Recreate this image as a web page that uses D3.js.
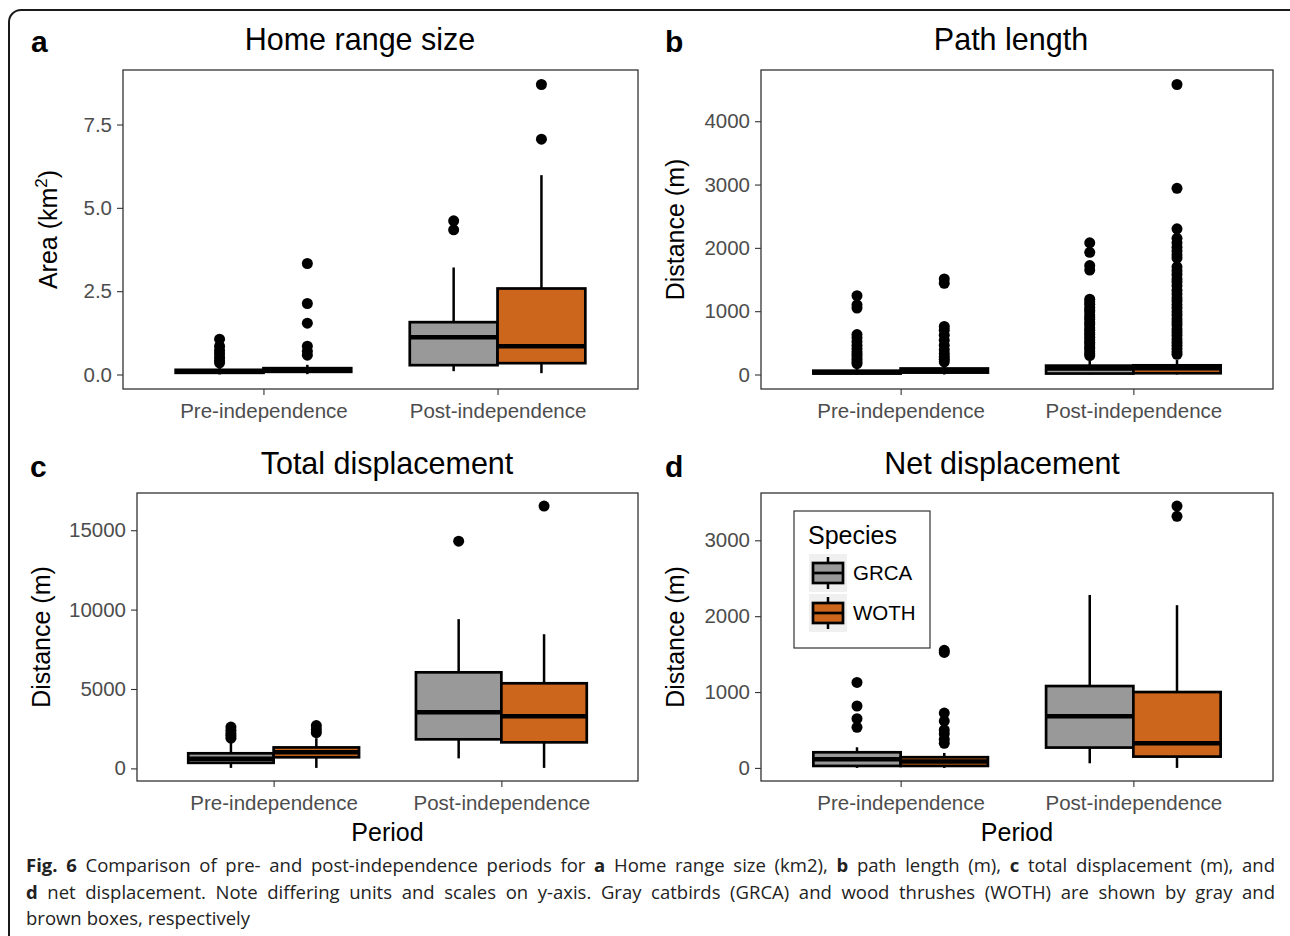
<html>
<head>
<script src="https://d3js.org/d3.v7.min.js"></script>
<style>
  body { margin: 0; background: #fff; }
  svg text { font-family: "Liberation Sans", Arial, sans-serif; }
  .axis .domain { stroke: none; }
  .axis .tick line { stroke: #333; stroke-width: 1.1; }
  .axis .tick text { fill: #4d4d4d; font-size: 20.5px; font-family: "Liberation Sans", Arial, sans-serif; }
  .caption text { font-family: "Open Sans", sans-serif; font-size: 18.5px; fill: #222; }
</style>
</head>
<body>
<svg id="fig" width="1290" height="936"></svg>
<script>
const periods = ["Pre-independence", "Post-independence"];
const species = ["GRCA", "WOTH"];
const speciesColors = ["#999999", "#cd661d"];

// box stats [lower whisker, q1, median, q3, upper whisker]
// order: Pre GRCA, Pre WOTH, Post GRCA, Post WOTH
const homeRangeBoxes = [
  [0.0, 0.05, 0.09, 0.14, 0.27],
  [0.01, 0.08, 0.13, 0.19, 0.29],
  [0.10, 0.28, 1.12, 1.57, 3.21],
  [0.04, 0.34, 0.85, 2.58, 5.98]
];
const homeRangeOutliers = [
  [1.06, 0.85, 0.72, 0.62, 0.52, 0.42, 0.35],
  [3.33, 2.13, 1.54, 0.85, 0.70, 0.58],
  [4.61, 4.34],
  [8.70, 7.06]
];
const homeRangeTicks = [0, 2.5, 5, 7.5];

const pathBoxes = [
  [0, 15, 35, 60, 140],
  [0, 30, 55, 95, 170],
  [0, 15, 95, 140, 215],
  [0, 20, 100, 145, 230]
];
const pathOutliers = [
  [1245, 1100, 1050, 630, 580, 520, 460, 410, 360, 320, 280, 240, 200, 170],
  [1510, 1440, 760, 700, 620, 540, 460, 390, 330, 280, 240, 200],
  [2080, 1930, 1720, 1650, 1190, 1150, 1110, 1060, 1020, 990, 940, 900, 870, 820, 790,
   740, 700, 660, 630, 590, 550, 510, 480, 440, 410, 370, 330, 300],
  [4580, 2940, 2300, 2150, 2080, 2010, 1950, 1890, 1840, 1700, 1640, 1580, 1510, 1460,
   1400, 1330, 1270, 1210, 1160, 1100, 1050, 990, 940, 880, 830, 780, 720, 670, 620,
   560, 510, 460, 410, 360, 320]
];
const pathTicks = [0, 1000, 2000, 3000, 4000];

const totalBoxes = [
  [30, 350, 600, 950, 1600],
  [30, 700, 1010, 1320, 1900],
  [630, 1830, 3530, 6050, 9400],
  [30, 1640, 3280, 5360, 8450]
];
const totalOutliers = [
  [1900, 2050, 2200, 2400, 2600],
  [2250, 2450, 2700],
  [14310],
  [16520]
];
const totalTicks = [0, 5000, 10000, 15000];

const netBoxes = [
  [0, 26, 114, 206, 272],
  [0, 26, 83, 141, 197],
  [61, 268, 680, 1079, 2280],
  [0, 149, 325, 1000, 2145]
];
const netOutliers = [
  [535, 649, 816, 1127],
  [325, 377, 450, 500, 618, 723, 1522, 1550],
  [],
  [3316, 3451]
];
const netTicks = [0, 1000, 2000, 3000];

const captionLines = [
  [["Fig. 6", true], ["Comparison of pre- and post-independence periods for", false], ["a", true],
   ["Home range size (km2),", false], ["b", true], ["path length (m),", false], ["c", true],
   ["total displacement (m), and", false]],
  [["d", true], ["net displacement. Note differing units and scales on y-axis. Gray catbirds (GRCA) and wood thrushes (WOTH) are shown by gray and", false]],
  [["brown boxes, respectively", false]]
];

const panels = [
  { letter: "a", title: "Home range size", ylab: "Area (km", sup: true, boxes: homeRangeBoxes, outliers: homeRangeOutliers, ticks: homeRangeTicks, fmt: d3.format(".1f"),
    x0: 123, x1: 638, y0: 70, y1: 389, lx: 31, ly: 52, tx: 360, ty: 50, yx: 48, xlab: false },
  { letter: "b", title: "Path length", ylab: "Distance (m)", boxes: pathBoxes, outliers: pathOutliers, ticks: pathTicks, fmt: d3.format("d"),
    x0: 761, x1: 1273, y0: 70, y1: 389, lx: 665, ly: 52, tx: 1011, ty: 50, yx: 675, xlab: false },
  { letter: "c", title: "Total displacement", ylab: "Distance (m)", boxes: totalBoxes, outliers: totalOutliers, ticks: totalTicks, fmt: d3.format("d"),
    x0: 137, x1: 638, y0: 493, y1: 781, lx: 30, ly: 477, tx: 387, ty: 474, yx: 41, xlab: true },
  { letter: "d", title: "Net displacement", ylab: "Distance (m)", boxes: netBoxes, outliers: netOutliers, ticks: netTicks, fmt: d3.format("d"),
    x0: 761, x1: 1273, y0: 493, y1: 781, lx: 665, ly: 477, tx: 1002, ty: 474, yx: 675, xlab: true, legend: true }
];

const svg = d3.select("#fig");

// outer rounded frame
svg.append("rect")
  .attr("x", 9).attr("y", 10).attr("width", 1300).attr("height", 1000)
  .attr("rx", 12).attr("fill", "none").attr("stroke", "#1a1a1a").attr("stroke-width", 2);

panels.forEach(p => {
  let all = [];
  p.boxes.forEach(b => all.push(b[0], b[4]));
  p.outliers.forEach(o => all.push(...o));
  let lo = d3.min(all), hi = d3.max(all), pad = (hi - lo) * 0.05;

  let y = d3.scaleLinear().domain([lo - pad, hi + pad]).range([p.y1, p.y0]);
  let x = d3.scalePoint().domain(periods).range([p.x0, p.x1]).padding(0.6);
  let step = x.step();
  let dodge = d3.scaleBand().domain(species).range([-0.375 * step, 0.375 * step]);

  // panel background + border
  svg.append("rect")
    .attr("x", p.x0).attr("y", p.y0).attr("width", p.x1 - p.x0).attr("height", p.y1 - p.y0)
    .attr("fill", "#fff");

  svg.append("g")
    .attr("class", "axis")
    .attr("transform", `translate(${p.x0},0)`)
    .call(d3.axisLeft(y).tickValues(p.ticks).tickFormat(p.fmt).tickSize(6).tickPadding(5));

  svg.append("g")
    .attr("class", "axis")
    .attr("transform", `translate(0,${p.y1})`)
    .call(d3.axisBottom(x).tickSize(6).tickPadding(8));

  let g = svg.append("g");
  periods.forEach((per, i) => {
    species.forEach((sp, j) => {
      let k = i * 2 + j;
      let b = p.boxes[k];
      let cx = x(per) + dodge(sp) + dodge.bandwidth() / 2;
      let bx = x(per) + dodge(sp);
      let w = dodge.bandwidth();

      g.append("line").attr("x1", cx).attr("x2", cx).attr("y1", y(b[0])).attr("y2", y(b[1]))
        .attr("stroke", "#000").attr("stroke-width", 2.5);
      g.append("line").attr("x1", cx).attr("x2", cx).attr("y1", y(b[3])).attr("y2", y(b[4]))
        .attr("stroke", "#000").attr("stroke-width", 2.5);
      g.append("rect")
        .attr("x", bx).attr("y", y(b[3])).attr("width", w).attr("height", y(b[1]) - y(b[3]))
        .attr("fill", speciesColors[j]).attr("stroke", "#000").attr("stroke-width", 2.7);
      g.append("line").attr("x1", bx).attr("x2", bx + w).attr("y1", y(b[2])).attr("y2", y(b[2]))
        .attr("stroke", "#000").attr("stroke-width", 4.5);

      g.selectAll(null).data(p.outliers[k]).join("circle")
        .attr("cx", cx).attr("cy", d => y(d)).attr("r", 5.5).attr("fill", "#000");
    });
  });

  svg.append("rect")
    .attr("x", p.x0).attr("y", p.y0).attr("width", p.x1 - p.x0).attr("height", p.y1 - p.y0)
    .attr("fill", "none").attr("stroke", "#333").attr("stroke-width", 1.3);

  // letters and titles
  svg.append("text").attr("x", p.lx).attr("y", p.ly).text(p.letter)
    .attr("font-size", 30).attr("font-weight", "bold").attr("fill", "#000");
  svg.append("text").attr("x", p.tx).attr("y", p.ty).text(p.title)
    .attr("font-size", 30.5).attr("text-anchor", "middle").attr("fill", "#000");

  let yl = svg.append("text")
    .attr("transform", `translate(${p.yx},${(p.y0 + p.y1) / 2}) rotate(-90)`)
    .attr("text-anchor", "middle").attr("dy", "0.35em")
    .attr("font-size", 25).attr("fill", "#000");
  yl.append("tspan").text(p.ylab);
  if (p.sup) {
    yl.append("tspan").attr("dy", -10).attr("font-size", 17).text("2");
    yl.append("tspan").attr("dy", 10).text(")");
  }

  if (p.xlab) {
    svg.append("text").attr("x", (p.x0 + p.x1) / 2).attr("y", 841).text("Period")
      .attr("font-size", 25).attr("text-anchor", "middle").attr("fill", "#000");
  }

  if (p.legend) {
    let lg = svg.append("g");
    lg.append("rect").attr("x", 794).attr("y", 511).attr("width", 136).attr("height", 137)
      .attr("fill", "#fff").attr("stroke", "#333").attr("stroke-width", 1.2);
    lg.append("text").attr("x", 808).attr("y", 544).text("Species").attr("font-size", 25).attr("fill", "#000");
    species.forEach((sp, j) => {
      let ky = 554 + j * 40;
      lg.append("rect").attr("x", 809).attr("y", ky).attr("width", 38).attr("height", 38).attr("fill", "#f0f0f0");
      lg.append("line").attr("x1", 828).attr("x2", 828).attr("y1", ky + 3).attr("y2", ky + 35)
        .attr("stroke", "#000").attr("stroke-width", 2.5);
      lg.append("rect").attr("x", 813).attr("y", ky + 9).attr("width", 30).attr("height", 20)
        .attr("fill", speciesColors[j]).attr("stroke", "#000").attr("stroke-width", 2.7);
      lg.append("line").attr("x1", 813).attr("x2", 843).attr("y1", ky + 19).attr("y2", ky + 19)
        .attr("stroke", "#000").attr("stroke-width", 2.7);
      lg.append("text").attr("x", 853).attr("y", ky + 19).attr("dy", "0.35em").text(sp)
        .attr("font-size", 20.5).attr("fill", "#000");
    });
  }
});

// caption, justified like the journal layout
const cap = svg.append("g").attr("class", "caption");
const capLeft = 26, capRight = 1275, capY = [872, 899, 925];
captionLines.forEach((line, li) => {
  let words = [];
  line.forEach(([t, bold]) => t.split(" ").filter(s => s.length).forEach(w => words.push({ w, bold })));
  let nodes = words.map(d => cap.append("text").attr("y", capY[li]).attr("font-weight", d.bold ? "bold" : "normal").text(d.w));
  let widths = nodes.map(n => n.node().getComputedTextLength());
  let total = d3.sum(widths);
  let gap = li < captionLines.length - 1 ? (capRight - capLeft - total) / (words.length - 1) : 5;
  let cx = capLeft;
  nodes.forEach((n, i) => { n.attr("x", cx); cx += widths[i] + gap; });
});
</script>
</body>
</html>
